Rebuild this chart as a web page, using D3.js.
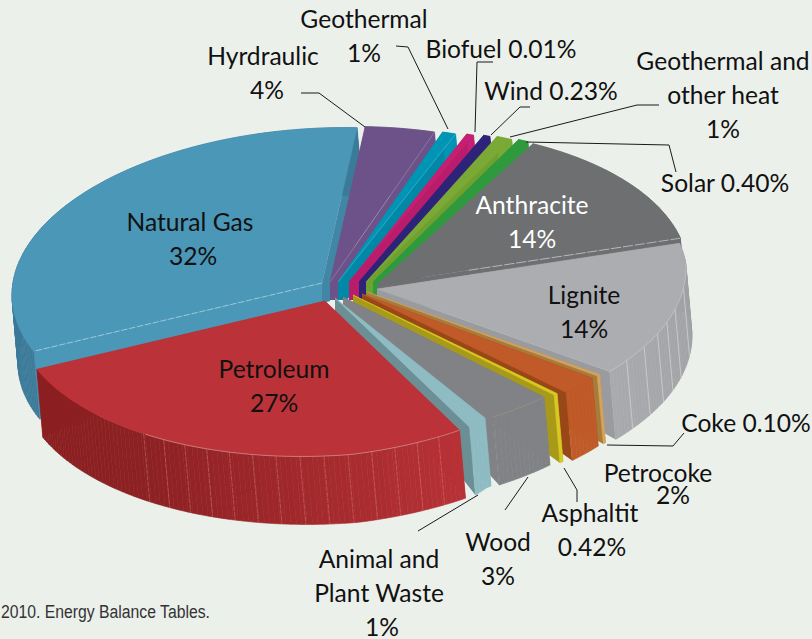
<!DOCTYPE html>
<html><head><meta charset="utf-8">
<script src="https://cdn.jsdelivr.net/npm/d3@7/dist/d3.min.js"></script>
<style>html,body{margin:0;padding:0;background:#ecf0eb}svg{display:block}</style></head>
<body><svg id="c" width="812" height="639"></svg>
<script>
const categories=["Natural Gas","Hyrdraulic","Geothermal","Biofuel","Wind","Geothermal and other heat","Solar","Anthracite","Lignite","Coke","Petrocoke","Asphaltit","Wood","Animal and Plant Waste","Petroleum"];
const labelValues=["32%","4%","1%","0.01%","0.23%","1%","0.40%","14%","14%","0.10%","2%","0.42%","3%","1%","27%"];
// drawn shares of the pie (degrees of the circle)
const drawnShares=[118.1,13.2,2.6,1.4,1.3,3,2,47.3,50.9,0.7,7.3,0.8,12.2,4.2,95];
const topColors=["#4b97b8","#6c5289","#0095b5","#c51f72","#2d2479","#7aa935","#2f9a3d","#6e6f71","#acadb1","#d6a25c","#c05a28","#d8c822","#808285","#8fbcc2","#bb3338"];
const cutColors=["#4186a5","#6c5289","#0088a6","#b81c6a","#2d2479","#70a030","#2f9a3d","#6e6f71","#9a9b9e","#a67c3d","#984716","#a89a18","#808285","#6b8f94","#bb3338"];
const wallColors=["#3b7a98","#6c5289","#0095b5","#c51f72","#2d2479","#7aa935","#2f9a3d","#6e6f71","#a5a6a9","#d6a25c","#c05a28","#d8c822","#808285","#8fbcc2","#a02a2c"];
const explodeX=[322,330,338,349,359,366,373,378,377,367,362,353,343,335,325];
const explodeY=[283,282,282,282,282,282,282,284,289,292,294,295,297,298,301];

const startAngleDeg=248.4;
const rx=310, ry=155, shear=12, wallDx=6, wallApex=18, wallOuter=50, wallFoot=8;
const svg=d3.select("#c");
const pie=d3.pie().sort(null).value(d=>d).startAngle(startAngleDeg*Math.PI/180).endAngle((startAngleDeg+360)*Math.PI/180);
const arcs=pie(drawnShares);
const uS=d3.scaleLinear().domain([-1,1]).range([-rx,rx]);
const vS=d3.scaleLinear().domain([-1,1]).range([-ry,ry]);
const deg=a=>((a*180/Math.PI)%360+360)%360;
// the rim of the original pie is flatter on its front-right side
const rimS=d3.scaleLinear().domain([0,85,110,128,150,153.5,175,360]).range([1,1,.975,.955,.945,.97,1,1]);
function P(i,r,a,z){ // slice i, radius r (0..1), angle a, z=1 means bottom of wall
  const rr=r*rimS(deg(a));
  const u=rr*Math.sin(a), v=-rr*Math.cos(a);
  return [explodeX[i]+uS(u)+z*r*wallDx, explodeY[i]+vS(v)-shear*u+z*(wallApex+wallOuter*r)];
}
const line=d3.line();
const step=Math.PI/180;
const petC=d3.scaleLinear().domain([248,216,153]).range(["#8a1f20","#8c2022","#b83236"]);
const ligC=d3.scaleLinear().domain([85,128]).range(["#9fa0a3","#a9aaad"]);
arcs.forEach((d,i)=>{
  const g=svg.append("g").attr("class","slice");
  const A=d.startAngle,B=d.endAngle;
  const an=d3.range(A,B,step).concat([B]);
  const apexT=P(i,0,0,0),apexB=P(i,0,0,1);
  const isPet=i===14, isLig=i===8;
  [A,B].forEach((e,k)=>{
    const col=(i===0&&k===0)?topColors[0]:cutColors[i];
    const quad=[apexT,P(i,1,e,0),P(i,1,e,1)];
    if(i<=6) quad.push([apexB[0]+wallFoot,apexB[1]]);
    quad.push(apexB);
    g.append("path").attr("d",line(quad)+"Z").attr("fill",col);
  });
  an.slice(0,-1).forEach((a,j)=>{
    const b=an[j+1];
    const mid=deg((a+b)/2);
    let col=wallColors[i];
    if(isPet)col=petC(mid);
    if(isLig)col=ligC(mid);
    const pts=[P(i,1,a,0),P(i,1,b,0),P(i,1,b,1),P(i,1,a,1)];
    g.append("path").attr("d",line(pts)+"Z").attr("fill",col).attr("stroke",col).attr("stroke-width",0.6);
  });
  if(isPet) d3.range(215.8,155,-4.45).forEach(t=>{
    const a=t*step;g.append("path").attr("d",line([P(i,1,a,0),P(i,1,a,1)])).attr("stroke","#d98a8a").attr("stroke-opacity",.55).attr("stroke-width",.8).attr("stroke-dasharray","5 1").attr("fill","none");
  });
  if(isLig) [94,102,107,111.6,117,123].forEach(t=>{
    const a=t*step;g.append("path").attr("d",line([P(i,1,a,0),P(i,1,a,1)])).attr("stroke","#d0d1d3").attr("stroke-width",.8).attr("fill","none");
  });
  const top=[apexT].concat(an.map(a=>P(i,1,a,0)));
  g.append("path").attr("d",line(top)+"Z").attr("fill",topColors[i]).attr("stroke",topColors[i]).attr("stroke-width",.5);
  if(isPet||isLig) g.append("path").attr("d",line(an.filter(a=>!isPet||deg(a)<216||deg(a)>300).filter(a=>!isLig||deg(a)>85).map(a=>P(i,1,a,0)))).attr("fill","none").attr("stroke","#e2d4d4").attr("stroke-opacity",.6).attr("stroke-width",.7);
  if(i===12) g.append("path").attr("d",line(an.map(a=>P(i,1,a,0)))).attr("fill","none").attr("stroke","#98987f").attr("stroke-width",.7);
  if(i===0) g.append("path").attr("d",line([apexT,P(i,1,A,0)])).attr("stroke","#a8d0e0").attr("stroke-width",.8).attr("stroke-dasharray","6 2").attr("fill","none");
  if(i===1||i===2) g.append("path").attr("d",line([apexT,P(i,1,B,0)])).attr("stroke","#ffffff").attr("stroke-opacity",.3).attr("stroke-width",.7).attr("fill","none");
  if(i===7) g.append("path").attr("d",line([P(i,.3,B,0),P(i,1,B,0)])).attr("stroke","#c4c5c7").attr("stroke-width",.8).attr("stroke-dasharray","10 2").attr("fill","none");
});

const leaders=[
 [[301,93],[319,93],[365,127]],
 [[396,46],[408,47],[448,129]],
 [[493,62],[477,62],[475,132]],
 [[530,107],[520,107],[491,135]],
 [[659,105],[637,105],[510,137]],
 [[526,142],[669,145],[676,172]],
 [[607,445],[673,446],[684,433]],
 [[564,468],[577,490],[577,502]],
 [[528,477],[505,510]],
 [[478,495],[418,531]]
];
svg.append("g").selectAll("path").data(leaders).join("path").attr("d",d=>line(d)).attr("fill","none").attr("stroke","#1a1a1a").attr("stroke-width",1);

const font="Lato, 'Open Sans', sans-serif";
const textRows=[
 ["Natural Gas",190,231,"#111"],["32%",193,265,"#111"],
 ["Petroleum",274,378,"#111"],["27%",274,412,"#111"],
 ["Anthracite",532,214,"#fff"],["14%",532,248,"#fff"],
 ["Lignite",584,304,"#111"],["14%",584,338,"#111"],
 ["Hyrdraulic",263,65,"#111"],["4%",267,99,"#111"],
 ["Geothermal",364,28,"#111"],["1%",364,62,"#111"],
 ["Biofuel 0.01%",501,58,"#111"],
 ["Wind 0.23%",551,100,"#111"],
 ["Geothermal and",723,70,"#111"],["other heat",723,104,"#111"],["1%",723,138,"#111"],
 ["Solar 0.40%",725,192,"#111"],
 ["Coke 0.10%",746,432,"#111"],
 ["Petrocoke",658,482,"#111"],["2%",673,504,"#111"],
 ["Asphaltit",590,522,"#111"],["0.42%",592,556,"#111"],
 ["Wood",498,551,"#111"],["3%",498,585,"#111"],
 ["Animal and",379,568,"#111"],["Plant Waste",379,602,"#111"],["1%",382,636,"#111"]
];
svg.append("g").selectAll("text").data(textRows).join("text")
 .attr("x",d=>d[1]).attr("y",d=>d[2]).attr("fill",d=>d[3]).attr("text-anchor","middle")
 .attr("font-family",font).attr("font-size",24.6).text(d=>d[0]);
svg.append("text").attr("x",1).attr("y",618).attr("font-family","'Liberation Sans',Arial,sans-serif").attr("font-size",18).attr("fill","#333").attr("textLength",209).attr("lengthAdjust","spacingAndGlyphs").text("2010. Energy Balance Tables.");
</script></body></html>
